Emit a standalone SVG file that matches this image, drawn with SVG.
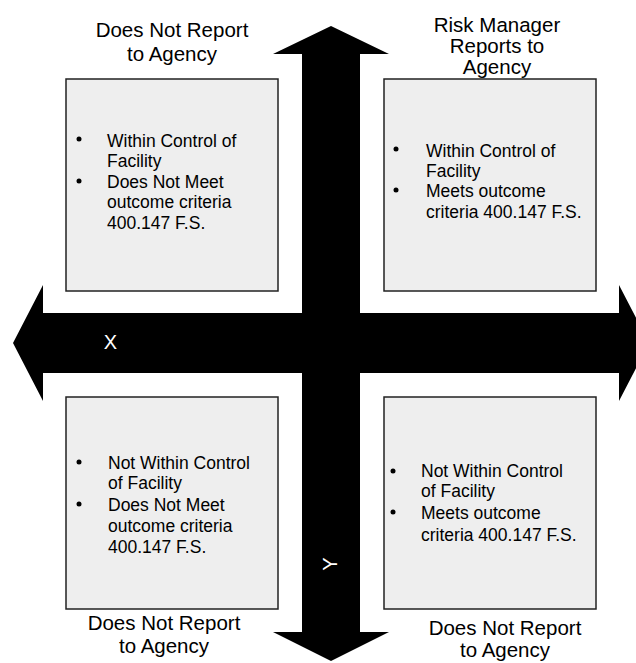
<svg xmlns="http://www.w3.org/2000/svg" width="636" height="663" viewBox="0 0 636 663">
<style>
.box{fill:#eeeeee;stroke:#222222;stroke-width:1.5}
.t{font-family:"Liberation Sans",Arial,sans-serif;fill:#000}
.title{font-size:20.5px;text-anchor:middle}
.b{font-size:17.5px}
.axis{font-family:"Liberation Sans",Arial,sans-serif;font-size:20px;fill:#fff;text-anchor:middle}
.dot{fill:#000}
</style>
<rect width="636" height="663" fill="#fff"/>
<g id="connectors">
<polygon points="331,26 389,54 360,54 360,632 389,632 331,661 273,632 302,632 302,54 273,54" fill="#000"/>
<polygon points="13,343 43,285 43,313 619,313 619,285 649,343 619,401 619,373 43,373 43,401" fill="#000"/>
<text class="axis" x="110.5" y="349">X</text>
<text class="axis" transform="translate(337,564) rotate(-90)">Y</text>
</g>
<g id="top-left">
<rect class="box" x="66" y="79" width="212" height="212"/>
<text class="t title" x="172" y="37">Does Not Report</text>
<text class="t title" x="172" y="61">to Agency</text>
<circle class="dot" cx="79" cy="139" r="2.5"/>
<circle class="dot" cx="79" cy="181" r="2.5"/>
<text class="t b" x="107" y="147">Within Control of</text>
<text class="t b" x="107" y="167">Facility</text>
<text class="t b" x="107" y="188">Does Not Meet</text>
<text class="t b" x="107" y="208">outcome criteria</text>
<text class="t b" x="107" y="229">400.147 F.S.</text>
</g>
<g id="top-right">
<rect class="box" x="384" y="79" width="212" height="212"/>
<text class="t title" x="497" y="32">Risk Manager</text>
<text class="t title" x="497" y="53">Reports to</text>
<text class="t title" x="497" y="74">Agency</text>
<circle class="dot" cx="396" cy="149" r="2.5"/>
<circle class="dot" cx="396" cy="190" r="2.5"/>
<text class="t b" x="426" y="157">Within Control of</text>
<text class="t b" x="426" y="177">Facility</text>
<text class="t b" x="426" y="197">Meets outcome</text>
<text class="t b" x="426" y="218">criteria 400.147 F.S.</text>
</g>
<g id="bottom-left">
<rect class="box" x="66" y="397" width="212" height="212"/>
<circle class="dot" cx="79" cy="462" r="2.5"/>
<circle class="dot" cx="79" cy="504" r="2.5"/>
<text class="t b" x="108" y="469">Not Within Control</text>
<text class="t b" x="108" y="489">of Facility</text>
<text class="t b" x="108" y="511">Does Not Meet</text>
<text class="t b" x="108" y="532">outcome criteria</text>
<text class="t b" x="108" y="553">400.147 F.S.</text>
<text class="t title" x="164" y="630">Does Not Report</text>
<text class="t title" x="164" y="653">to Agency</text>
</g>
<g id="bottom-right">
<rect class="box" x="384" y="397" width="212" height="212"/>
<circle class="dot" cx="393" cy="471" r="2.5"/>
<circle class="dot" cx="393" cy="512" r="2.5"/>
<text class="t b" x="421" y="477">Not Within Control</text>
<text class="t b" x="421" y="497">of Facility</text>
<text class="t b" x="421" y="519">Meets outcome</text>
<text class="t b" x="421" y="541">criteria 400.147 F.S.</text>
<text class="t title" x="505" y="635">Does Not Report</text>
<text class="t title" x="505" y="657">to Agency</text>
</g>
</svg>
